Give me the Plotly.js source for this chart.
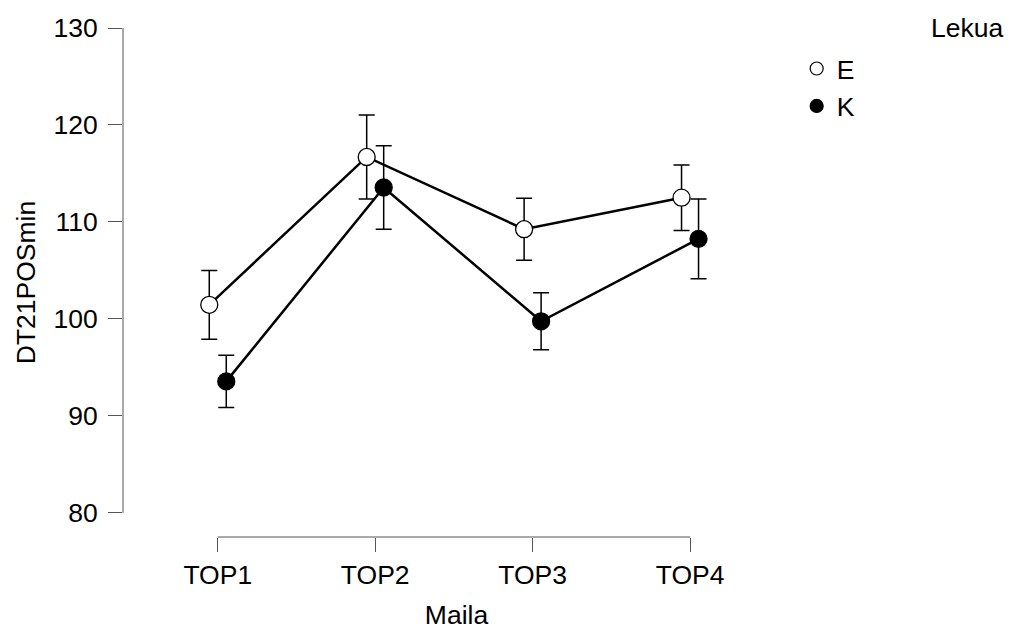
<!DOCTYPE html>
<html>
<head>
<meta charset="utf-8">
<script src="https://cdn.plot.ly/plotly-3.0.1.min.js"></script>
<style>html,body{margin:0;padding:0;background:#fff;}#chart{width:1010px;height:632px;}</style>
</head>
<body>
<div id="chart"></div>
<script>
// Data
var categories = ['TOP1', 'TOP2', 'TOP3', 'TOP4'];
var groupNames = ['E', 'K'];
var meanE = [101.45, 116.7, 109.25, 112.5];
var errE = [3.55, 4.33, 3.2, 3.38];
var meanK = [93.55, 113.55, 99.75, 108.25];
var errK = [2.7, 4.3, 2.93, 4.12];
var yTicks = [80, 90, 100, 110, 120, 130];

var dodge = 0.054;
var catIdx = categories.map(function (c, i) { return i; });
var xE = catIdx.map(function (i) { return i - dodge; });
var xK = catIdx.map(function (i) { return i + dodge; });

var FONT = 'Liberation Sans, Arial, sans-serif';
var FS = 26.5;
var AXC = '#555555';

function mainTrace(x, y, err, fill) {
  return {
    x: x, y: y, type: 'scatter', mode: 'lines+markers', showlegend: false,
    cliponaxis: false,
    line: {color: '#000', width: 2.5},
    marker: {size: 17, color: fill, line: {color: '#000', width: 1.3}},
    error_y: {type: 'data', array: err, visible: true, color: '#000', thickness: 1.5, width: 8}
  };
}
function legendTrace(name, fill) {
  return {
    x: [null], y: [null], type: 'scatter', mode: 'markers', name: name,
    marker: {size: 13, color: fill, line: {color: '#000', width: 1.2}}
  };
}

var data = [
  mainTrace(xE, meanE, errE, '#ffffff'),
  mainTrace(xK, meanK, errK, '#000000'),
  legendTrace(groupNames[0], '#ffffff'),
  legendTrace(groupNames[1], '#000000')
];

var layout = {
  width: 1010, height: 632,
  margin: {l: 123, r: 220, t: 28, b: 95},
  paper_bgcolor: '#fff', plot_bgcolor: '#fff',
  font: {family: FONT, size: FS, color: '#000'},
  xaxis: {
    range: [-0.602, 3.635],
    tickmode: 'array', tickvals: catIdx, ticktext: categories,
    showgrid: false, zeroline: false, showline: false,
    ticks: 'outside', ticklen: 14, tickwidth: 1, tickcolor: AXC,
    tickfont: {family: FONT, size: FS, color: '#000'},
    title: {text: 'Maila', font: {family: FONT, size: FS, color: '#000'}, standoff: 16}
  },
  yaxis: {
    range: [77.5, 130],
    tickmode: 'array', tickvals: yTicks,
    showgrid: false, zeroline: false, showline: false,
    ticks: 'outside', ticklen: 14, tickwidth: 1, tickcolor: AXC,
    ticklabelstandoff: 5,
    tickfont: {family: FONT, size: FS, color: '#000'},
    title: {text: 'DT21POSmin', font: {family: FONT, size: FS, color: '#000'}, standoff: 10}
  },
  shapes: [
    {type: 'line', xref: 'paper', x0: 0, x1: 0, yref: 'y', y0: yTicks[0], y1: yTicks[yTicks.length - 1],
     line: {color: AXC, width: 1}},
    {type: 'line', xref: 'x', x0: catIdx[0], x1: catIdx[catIdx.length - 1], yref: 'paper', y0: 0, y1: 0,
     line: {color: AXC, width: 1}}
  ],
  legend: {
    x: 1.01, xanchor: 'left', y: 0.967, yanchor: 'top',
    bgcolor: 'rgba(0,0,0,0)', borderwidth: 0,
    font: {family: FONT, size: FS, color: '#000'}
  },
  annotations: [
    {text: 'Lekua', xref: 'paper', yref: 'paper', x: 1.322, y: 1.0, xanchor: 'right', yanchor: 'middle',
     showarrow: false, font: {family: FONT, size: FS, color: '#000'}}
  ]
};

Plotly.newPlot('chart', data, layout, {displayModeBar: false, staticPlot: true});
</script>
</body>
</html>
